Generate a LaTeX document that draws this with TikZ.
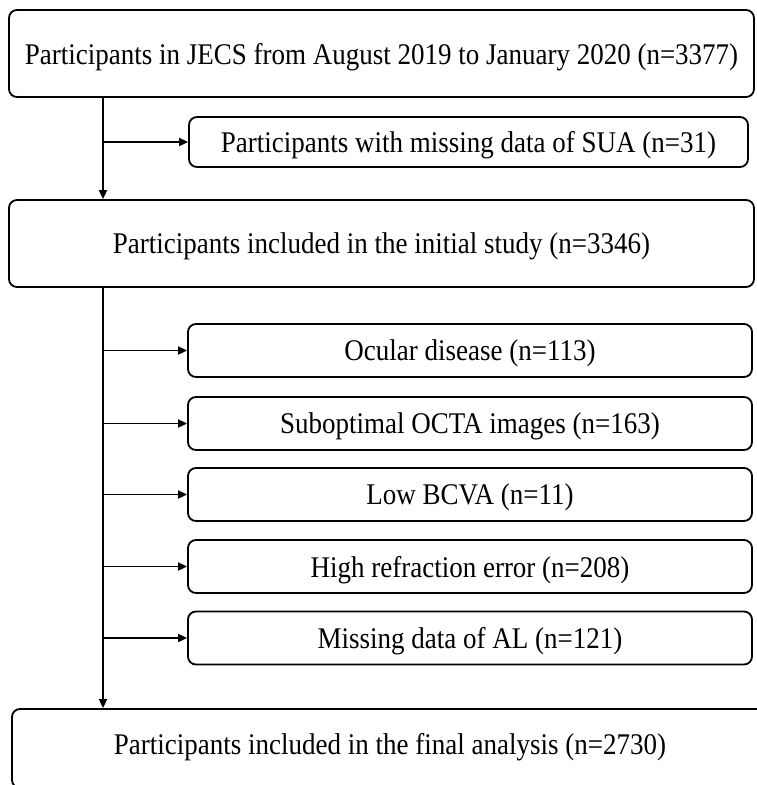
\documentclass[tikz,border=0pt]{standalone}
\usepackage{fontspec}
\setmainfont{Liberation Serif}[FakeStretch=0.9]
\usetikzlibrary{arrows.meta,positioning}
\tikzset{
  box/.style={draw, rounded corners=8pt, line width=1.8pt, inner sep=0pt, align=center, text depth=0pt, font=\fontsize{30}{34}\selectfont},
  wide/.style={box, minimum width=745, minimum height=87},
  excl/.style={box, minimum width=564, minimum height=53},
  edge/.style={-{Triangle[length=9pt,width=8pt]}, line width=1.8pt}
}

\begin{document}
\begin{tikzpicture}[x=1pt, y=-1pt]
    \useasboundingbox (0,0) rectangle (756,785);
    \coordinate (trunk) at (103,0);

    \node [wide] (jecs) at (381.5,53.5) {Participants in JECS from August 2019 to January 2020 (n=3377)};
    \node [box, minimum width=559, minimum height=50] (sua) at (468.5,142) {Participants with missing data of SUA (n=31)};
    \node [wide] (initial) at (381.5,243.5) {Participants included in the initial study (n=3346)};

    \node [excl] (ocular) at (470,350.5) {Ocular disease (n=113)};
    \node [excl] (octa) at (470,423.5) {Suboptimal OCTA images (n=163)};
    \node [excl] (bcva) at (470,494.5) {Low BCVA (n=11)};
    \node [excl] (refr) at (470,566.5) {High refraction error (n=208)};
    \node [excl] (axial) at (470,638) {Missing data of AL (n=121)};

    \node [wide, minimum width=756, minimum height=79, text depth=10pt] (final) at (390,748.5) {Participants included in the final analysis (n=2730)};

    \draw [edge] (jecs.south -| trunk) -- (initial.north -| trunk);
    \draw [edge] (sua.west -| trunk) -- (sua.west);
    \draw [edge] (initial.south -| trunk) -- (final.north -| trunk);
    \draw [edge] (ocular.west -| trunk) -- (ocular.west);
    \draw [edge] (octa.west -| trunk) -- (octa.west);
    \draw [edge] (bcva.west -| trunk) -- (bcva.west);
    \draw [edge] (refr.west -| trunk) -- (refr.west);
    \draw [edge] (axial.west -| trunk) -- (axial.west);
\end{tikzpicture}
\end{document}
